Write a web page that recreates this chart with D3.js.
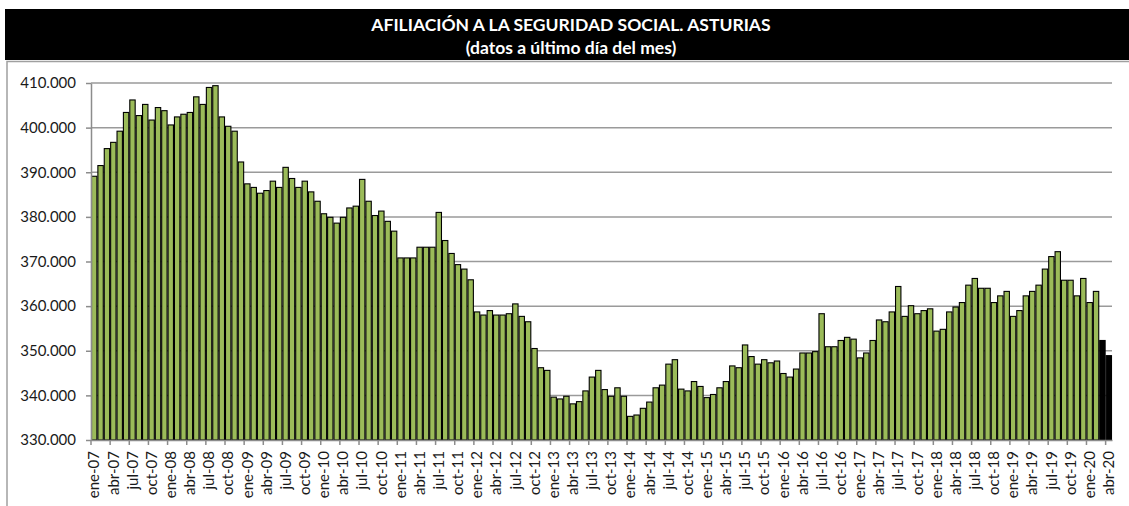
<!DOCTYPE html>
<html>
<head>
<meta charset="utf-8">
<script src="https://cdn.jsdelivr.net/npm/d3@7"></script>
<style>
  body { margin: 0; background: #fff; }
  svg { display: block; font-family: Lato, "Open Sans", sans-serif; }
</style>
</head>
<body>
<div id="chart-area"></div>
<script>
// Spanish month abbreviations and years shown on the axis
var monthNames = ["ene", "feb", "mar", "abr", "may", "jun", "jul", "ago", "sep", "oct", "nov", "dic"];
var years = ["07", "08", "09", "10", "11", "12", "13", "14", "15", "16", "17", "18", "19", "20"];

// afiliados (miles), last day of each month, ene-07 .. abr-20
var values2007 = [389.1, 391.5, 395.3, 396.7, 399.2, 403.4, 406.2, 402.7, 405.2, 401.7, 404.5, 403.8];
var values2008 = [400.6, 402.4, 403.0, 403.4, 406.9, 405.2, 409.0, 409.4, 402.4, 400.3, 399.2, 392.3];
var values2009 = [387.4, 386.6, 385.3, 385.9, 388.0, 386.6, 391.1, 388.6, 386.6, 388.0, 385.6, 383.5];
var values2010 = [380.7, 379.9, 378.6, 379.9, 382.0, 382.4, 388.4, 383.5, 380.3, 381.3, 379.0, 376.8];
var values2011 = [370.8, 370.8, 370.8, 373.2, 373.2, 373.2, 381.0, 374.7, 371.8, 369.3, 368.3, 365.9];
var values2012 = [358.7, 358.0, 359.0, 358.0, 358.0, 358.3, 360.5, 357.7, 356.5, 350.5, 346.2, 345.6];
var values2013 = [339.6, 339.2, 339.8, 338.1, 338.6, 341.0, 344.1, 345.6, 341.3, 339.8, 341.7, 339.8];
var values2014 = [335.3, 335.6, 337.1, 338.5, 341.7, 342.3, 347.0, 348.0, 341.4, 341.0, 343.1, 342.0];
var values2015 = [339.5, 340.2, 341.7, 343.1, 346.6, 346.2, 351.3, 348.7, 347.0, 348.0, 347.3, 347.7];
var values2016 = [344.9, 344.1, 345.9, 349.5, 349.5, 349.8, 358.3, 350.9, 350.9, 352.3, 353.0, 352.6];
var values2017 = [348.4, 349.5, 352.3, 356.9, 356.5, 358.7, 364.4, 357.7, 360.1, 358.3, 359.0, 359.4];
var values2018 = [354.4, 354.8, 358.7, 359.8, 360.8, 364.7, 366.2, 364.0, 364.0, 360.8, 362.3, 363.3];
var values2019 = [357.7, 359.0, 362.3, 363.3, 364.7, 368.3, 371.1, 372.2, 365.8, 365.8, 362.3, 366.2];
var values2020 = [360.8, 363.3, 352.3, 348.9];

// months drawn in black (estado de alarma)
var highlighted = ["mar-20", "abr-20"];

var yTicks = [330000, 340000, 350000, 360000, 370000, 380000, 390000, 400000, 410000];

var allValues = [].concat(values2007, values2008, values2009, values2010, values2011, values2012,
    values2013, values2014, values2015, values2016, values2017, values2018, values2019, values2020);

//Build one row per month
var data = allValues.map(function(v, i) {
    return {
        month: monthNames[i % 12] + "-" + years[Math.floor(i / 12)],
        value: v * 1000
    };
});

var width = 1129,
    height = 506,
    plotLeft = 91,
    plotRight = 1112,
    plotTop = 83,
    plotBottom = 440;

var svg = d3.select("#chart-area").append("svg")
    .attr("width", width)
    .attr("height", height);

//Title band
svg.append("rect")
    .attr("x", 5).attr("y", 9)
    .attr("width", width - 5).attr("height", 51)
    .attr("fill", "#000");

svg.append("text")
    .attr("x", 571).attr("y", 31)
    .attr("text-anchor", "middle")
    .attr("fill", "#fff")
    .style("font-weight", "bold")
    .style("font-size", "17.5px")
    .text("AFILIACIÓN A LA SEGURIDAD SOCIAL. ASTURIAS");

svg.append("text")
    .attr("x", 571).attr("y", 54)
    .attr("text-anchor", "middle")
    .attr("fill", "#fff")
    .style("font-weight", "bold")
    .style("font-size", "17.5px")
    .text("(datos a último día del mes)");

//Chart frame (top + left border)
svg.append("path")
    .attr("d", "M7," + height + "V61.5H" + width)
    .attr("fill", "none")
    .attr("stroke", "#a0a0a0")
    .attr("stroke-width", 1.5);

var x = d3.scaleBand()
    .domain(data.map(function(d) { return d.month; }))
    .range([plotLeft, plotRight])
    .padding(0);

var y = d3.scaleLinear()
    .domain([330000, 410000])
    .range([plotBottom, plotTop]);

var esFormat = d3.formatLocale({ decimal: ",", thousands: ".", grouping: [3], currency: ["", " €"] }).format(",");

//Gridlines
svg.append("g")
    .selectAll("line")
    .data(yTicks.slice(1))
    .enter()
    .append("line")
    .attr("x1", plotLeft).attr("x2", plotRight)
    .attr("y1", function(d) { return y(d); })
    .attr("y2", function(d) { return y(d); })
    .attr("stroke", "#9a9a9a")
    .attr("stroke-width", 1.5);

//Bars
svg.append("g")
    .selectAll("rect")
    .data(data)
    .enter()
    .append("rect")
    .attr("x", function(d) { return x(d.month) + 0.5; })
    .attr("y", function(d) { return y(d.value); })
    .attr("width", x.bandwidth() - 1)
    .attr("height", function(d) { return plotBottom - y(d.value); })
    .attr("fill", function(d) { return highlighted.indexOf(d.month) >= 0 ? "#000" : "#9bbb59"; })
    .attr("stroke", "#000")
    .attr("stroke-width", 1.1);

//Y axis
var yAxis = d3.axisLeft(y)
    .tickValues(yTicks)
    .tickFormat(esFormat)
    .tickSize(5)
    .tickPadding(10)
    .tickSizeOuter(0);

var gy = svg.append("g")
    .attr("transform", "translate(" + plotLeft + ",0)")
    .call(yAxis);
gy.select(".domain").attr("stroke", "#8c8c8c").attr("stroke-width", 1.5);
gy.selectAll(".tick line").attr("stroke", "#8c8c8c").attr("stroke-width", 1.5);
gy.selectAll("text")
    .style("font-size", "15px")
    .style("font-family", "Lato, sans-serif")
    .attr("fill", "#1a1a1a");

//X axis, label every 3 months, ticks on the category edge
var bw = x.bandwidth();
var xAxis = d3.axisBottom(x)
    .tickValues(data.filter(function(d, i) { return i % 3 === 0; }).map(function(d) { return d.month; }))
    .tickSize(5)
    .tickSizeOuter(0);

var gx = svg.append("g")
    .attr("transform", "translate(0," + plotBottom + ")")
    .call(xAxis);
gx.select(".domain").attr("stroke", "#8c8c8c").attr("stroke-width", 1.5);
gx.selectAll(".tick line")
    .attr("x1", -bw / 2).attr("x2", -bw / 2)
    .attr("stroke", "#8c8c8c").attr("stroke-width", 1.5);
gx.selectAll("text")
    .attr("transform", "rotate(-90)")
    .attr("x", -11)
    .attr("y", 0)
    .attr("dy", ".35em")
    .style("text-anchor", "end")
    .style("font-size", "15px")
    .style("font-family", "Lato, sans-serif")
    .attr("fill", "#1a1a1a");
</script>
</body>
</html>
